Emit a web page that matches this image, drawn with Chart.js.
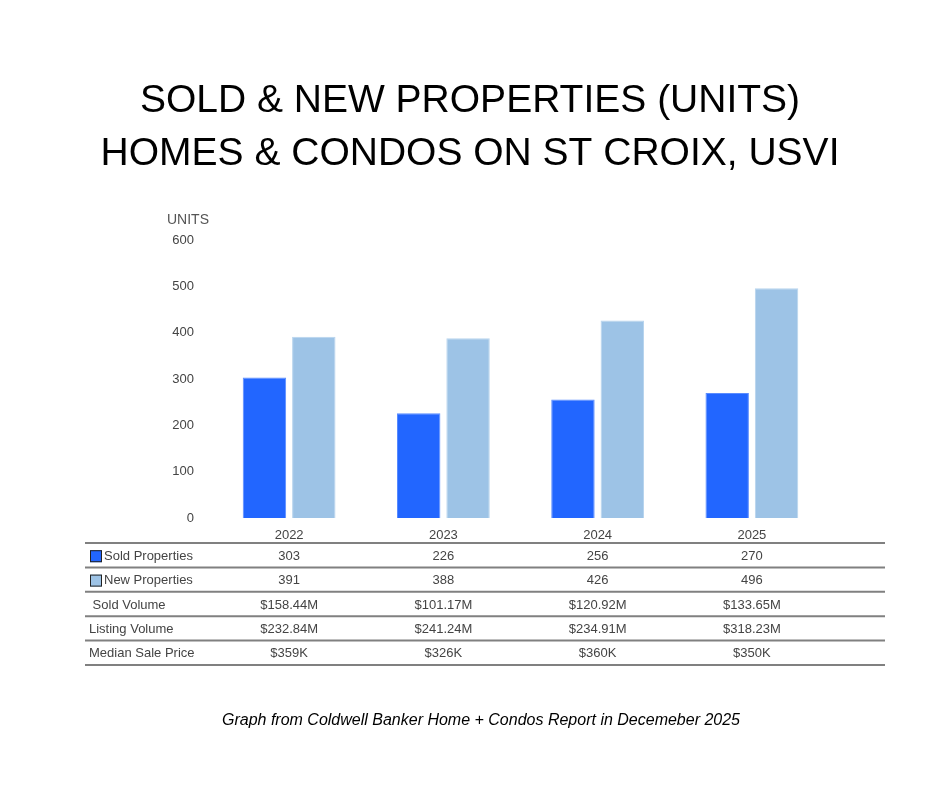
<!DOCTYPE html>
<html>
<head>
<meta charset="utf-8">
<script src="https://cdn.jsdelivr.net/npm/chart.js@4"></script>
<style>
  html, body { margin: 0; padding: 0; background: #fff; }
  #wrap { width: 940px; height: 788px; }
</style>
</head>
<body>
<div id="wrap"><canvas id="grafico"></canvas></div>
<script>
// Datos del gráfico
const years = ['2022', '2023', '2024', '2025'];
const soldProperties = [303, 226, 256, 270];
const newProperties = [391, 388, 426, 496];
const soldVolume = ['$158.44M', '$101.17M', '$120.92M', '$133.65M'];
const listingVolume = ['$232.84M', '$241.24M', '$234.91M', '$318.23M'];
const medianSalePrice = ['$359K', '$326K', '$360K', '$350K'];
const titleLines = ['SOLD & NEW PROPERTIES (UNITS)', 'HOMES & CONDOS ON ST CROIX, USVI'];
const footnote = 'Graph from Coldwell Banker Home + Condos Report in Decemeber 2025';

const soldColor = '#2266ff';
const newColor = '#9dc3e6';

// Filas de la tabla debajo del gráfico
const tableRows = [
    { label: 'Sold Properties', values: soldProperties.map(String), swatch: soldColor },
    { label: 'New Properties', values: newProperties.map(String), swatch: newColor },
    { label: ' Sold Volume', values: soldVolume },
    { label: 'Listing Volume', values: listingVolume },
    { label: 'Median Sale Price', values: medianSalePrice },
];

// Plugin para títulos, tabla y nota
const extras = {
    id: 'extras',
    afterDraw(chart) {
        const ctx = chart.ctx;
        const xScale = chart.scales.x;
        ctx.save();

        // Título
        ctx.fillStyle = '#000';
        ctx.textAlign = 'center';
        ctx.textBaseline = 'middle';
        ctx.font = '39px "Liberation Sans", Arial, sans-serif';
        ctx.fillText(titleLines[0], 470, 101);
        ctx.fillText(titleLines[1], 470, 154);

        // Etiqueta del eje
        ctx.fillStyle = '#555';
        ctx.font = '14px "Liberation Sans", Arial, sans-serif';
        ctx.textAlign = 'right';
        ctx.fillText('UNITS', 209, 220);

        // Tabla
        const top = 543, rowH = 24.4, left = 85, right = 885;
        ctx.strokeStyle = '#808080';
        ctx.lineWidth = 2;
        for (let i = 0; i <= tableRows.length; i++) {
            const y = top + i * rowH;
            ctx.beginPath();
            ctx.moveTo(left, y);
            ctx.lineTo(right, y);
            ctx.stroke();
        }
        ctx.font = '13px "Liberation Sans", Arial, sans-serif';
        tableRows.forEach((row, i) => {
            const yc = top + i * rowH + rowH / 2 + 1;
            let tx = 89;
            if (row.swatch) {
                ctx.fillStyle = row.swatch;
                ctx.fillRect(90, yc - 6, 12, 12);
                ctx.strokeStyle = '#222';
                ctx.lineWidth = 1;
                ctx.strokeRect(90.5, yc - 5.5, 11, 11);
                tx = 104;
            }
            ctx.fillStyle = '#444';
            ctx.textAlign = 'left';
            ctx.fillText(row.label, tx, yc);
            ctx.textAlign = 'center';
            row.values.forEach((v, j) => {
                ctx.fillText(v, xScale.getPixelForValue(j), yc);
            });
        });

        // Nota
        ctx.fillStyle = '#000';
        ctx.textAlign = 'center';
        ctx.font = 'italic 16px "Liberation Sans", Arial, sans-serif';
        ctx.fillText(footnote, 481, 721);
        ctx.restore();
    }
};

const ctx = document.getElementById('grafico').getContext('2d');
new Chart(ctx, {
    type: 'bar',
    data: {
        labels: years,
        datasets: [
            {
                label: 'Sold Properties',
                data: soldProperties,
                backgroundColor: soldColor,
                borderColor: '#5a8cff',
                borderWidth: 1,
                barPercentage: 0.88,
                categoryPercentage: 0.64,
            },
            {
                label: 'New Properties',
                data: newProperties,
                backgroundColor: newColor,
                borderColor: '#b8d4ee',
                borderWidth: 1,
                barPercentage: 0.88,
                categoryPercentage: 0.64,
            },
        ],
    },
    plugins: [extras],
    options: {
        responsive: true,
        maintainAspectRatio: false,
        animation: false,
        layout: { padding: { left: 142, right: 111, top: 240, bottom: 0 } },
        plugins: {
            legend: { display: false },
            tooltip: { enabled: false },
        },
        scales: {
            x: {
                grid: { display: false },
                border: { display: false },
                ticks: {
                    color: '#444',
                    padding: 2,
                    font: { size: 13, family: '"Liberation Sans", Arial, sans-serif' },
                },
                afterFit: (s) => { s.height = 270; },
            },
            y: {
                min: 0,
                max: 600,
                grid: { display: false },
                border: { display: false },
                ticks: {
                    stepSize: 100,
                    color: '#444',
                    padding: 10,
                    font: { size: 13, family: '"Liberation Sans", Arial, sans-serif' },
                },
                afterFit: (s) => { s.width = 70; },
            },
        },
    },
});
</script>
</body>
</html>
